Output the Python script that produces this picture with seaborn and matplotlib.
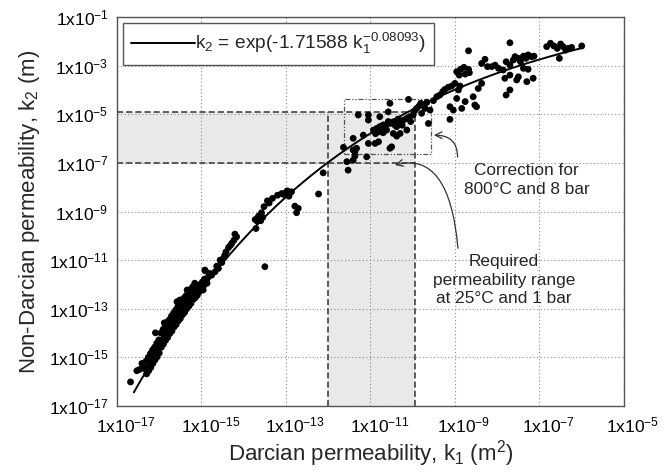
import numpy as np
import pandas as pd
import matplotlib
matplotlib.use("Agg")
import matplotlib.pyplot as plt
import seaborn as sns
from matplotlib.ticker import FixedLocator, FuncFormatter, NullFormatter
from matplotlib.transforms import ScaledTranslation

# ---------------- data (log10 values) ----------------
tail_log_k1 = [-16.68, -16.53, -16.41, -16.47, -16.38, -16.09, -15.88, -15.58, -15.51, -15.34, -14.91]
tail_log_k2 = [-16.01, -15.55, -15.25, -15.50, -15.45, -13.99, -13.58, -12.71, -12.64, -12.23, -11.44]

band_log_k1 = [-16.30, -16.28, -16.31, -16.25, -16.23, -16.26, -16.20, -16.18, -16.21, -16.15,
               -16.13, -16.16, -16.10, -16.08, -16.11, -16.05, -16.03, -16.06, -16.00, -15.98,
               -16.01, -15.95, -15.93, -15.96, -15.90, -15.88, -15.91, -15.85, -15.83, -15.86,
               -15.80, -15.78, -15.81, -15.75, -15.73, -15.76, -15.70, -15.68, -15.71, -15.65,
               -15.63, -15.66, -15.60, -15.58, -15.61, -15.55, -15.53, -15.56, -15.50, -15.48,
               -15.51, -15.45, -15.43, -15.46, -15.40, -15.38, -15.41, -15.35, -15.33, -15.36,
               -15.30, -15.28, -15.31, -15.25, -15.23, -15.26, -15.20, -15.18, -15.21, -15.15,
               -15.13, -15.16, -15.10, -15.08, -15.05, -15.03, -15.00, -14.98, -14.95, -14.93]
band_log_k2 = [-15.68, -15.40, -15.15, -15.55, -15.22, -15.00, -15.42, -15.08, -14.85, -15.25,
               -14.98, -14.70, -15.10, -14.80, -14.58, -14.98, -14.70, -14.42, -14.82, -14.52,
               -14.28, -14.58, -14.30, -14.00, -14.45, -14.15, -13.85, -14.30, -14.00, -13.72,
               -14.18, -13.85, -13.55, -14.02, -13.75, -13.45, -13.92, -13.60, -13.30, -13.75,
               -13.48, -13.18, -13.65, -13.35, -13.05, -13.50, -13.20, -12.92, -13.40, -13.10,
               -12.80, -13.25, -12.95, -12.68, -13.15, -12.85, -12.55, -13.00, -12.72, -12.45,
               -12.90, -12.60, -12.30, -12.78, -12.48, -12.20, -12.62, -12.35, -12.10, -12.55,
               -12.25, -11.95, -12.45, -12.15, -12.30, -12.00, -12.20, -11.90, -12.05, -11.78]

mid_log_k1 = [-14.96, -14.87, -14.92, -14.88, -14.84, -14.80, -14.76, -14.68, -14.64, -14.60,
              -14.56, -14.52, -14.48, -14.45, -14.42, -14.36, -14.31, -14.28, -14.23, -14.21,
              -14.17, -13.50, -13.73, -13.68, -13.65, -13.62, -13.60, -13.55, -13.71, -13.58,
              -13.52, -13.44, -13.40, -13.32, -13.20, -13.10, -13.05, -13.00, -12.97, -12.93,
              -12.87, -12.79, -12.71, -12.75, -12.23, -12.12]
mid_log_k2 = [-12.23, -11.95, -11.41, -11.80, -11.69, -11.55, -11.62, -11.48, -11.25, -11.34,
              -11.00, -11.10, -10.93, -10.80, -10.66, -10.48, -10.38, -10.30, -10.18, -9.93,
              -10.04, -11.27, -9.33, -9.40, -9.19, -9.28, -9.38, -9.24, -9.70, -9.05,
              -8.80, -8.56, -8.65, -8.46, -8.33, -8.26, -8.30, -8.22, -8.15, -8.37,
              -8.19, -8.78, -8.87, -9.05, -8.28, -7.41]

box_log_k1 = [-11.53, -11.56, -11.41, -11.37, -11.37, -11.41, -11.33, -11.64, -11.41, -11.09,
              -11.05, -10.89, -10.81, -11.17, -11.29, -11.05, -11.05, -10.78, -10.54, -10.54,
              -10.50, -10.93, -10.85, -10.78, -10.70, -10.62, -10.54, -10.46, -10.38, -10.30,
              -10.30, -10.22, -10.14, -10.14, -10.07, -9.99, -9.95, -9.91, -9.85, -9.81,
              -9.79, -9.71, -9.67, -9.63, -10.46, -10.38, -10.70, -10.78, -10.10, -10.58,
              -10.65, -10.42, -10.25, -10.05, -10.35, -10.58, -10.88]
box_log_k2 = [-7.30, -6.95, -6.89, -6.72, -6.54, -6.47, -6.40, -6.36, -5.99, -6.75,
              -6.20, -6.20, -6.13, -5.86, -5.03, -5.03, -5.24, -5.10, -4.55, -6.40,
              -6.34, -5.65, -5.58, -5.51, -5.44, -5.65, -5.38, -5.31, -5.51, -5.38,
              -5.79, -5.24, -5.17, -5.65, -5.10, -5.03, -4.85, -4.76, -4.66, -4.55,
              -4.96, -4.76, -4.52, -5.38, -5.79, -5.90, -5.76, -5.72, -4.39, -4.90,
              -5.55, -5.45, -5.45, -5.30, -5.20, -5.30, -5.80]

top_log_k1 = [-9.59, -9.51, -9.43, -9.36, -9.29, -9.24, -9.16, -9.08, -9.00, -8.92,
              -8.88, -9.12, -9.04, -9.12, -8.96, -8.84, -8.76, -8.57, -8.53, -8.49,
              -8.45, -8.37, -8.96, -8.87, -8.79, -8.68, -8.66, -8.90, -8.76, -8.68,
              -8.37, -8.29, -8.23, -8.13, -8.05, -7.97, -7.86, -7.79, -7.70, -7.62,
              -7.58, -7.50, -7.45, -7.38, -7.32, -7.27, -7.19, -7.13, -7.82, -7.70,
              -7.79, -7.70, -7.54, -7.50, -7.38, -7.30, -7.15, -7.27, -7.70, -6.83,
              -6.74, -6.66, -6.58, -6.50, -6.44, -6.38, -6.32, -6.24, -6.00, -6.53]
top_log_k2 = [-4.83, -4.44, -4.28, -4.21, -4.07, -3.98, -3.89, -3.84, -3.73, -4.00,
              -3.84, -4.69, -4.83, -5.21, -4.35, -4.76, -4.48, -4.28, -4.62, -4.69,
              -3.94, -3.73, -3.25, -3.15, -3.07, -3.15, -3.29, -3.39, -3.35, -2.39,
              -2.91, -2.74, -3.04, -3.04, -2.98, -3.11, -3.18, -2.84, -2.98, -2.77,
              -2.63, -2.70, -2.84, -2.61, -2.70, -2.56, -2.63, -2.61, -3.52, -3.39,
              -4.21, -4.00, -3.59, -3.46, -3.11, -3.66, -3.52, -3.15, -2.06, -2.22,
              -2.08, -2.19, -2.29, -2.11, -2.22, -2.36, -2.29, -2.25, -2.19, -2.70]

# fitted correlation k2 = exp(a * k1^b)
fit_a = -1.71588
fit_b = -0.08093
fit_k1_range = (2.5e-17, 1e-6)

# required permeability range (shaded) and corrected range (dash-dot box)
req_k1 = (1e-12, 1.15e-10)
req_k2 = (1e-7, 1.2e-5)
corr_k1 = (2.3e-12, 2.7e-10)
corr_k2 = (2.3e-7, 4.3e-5)

x_tick_exps = [-17, -15, -13, -11, -9, -7, -5]
y_tick_exps = [-17, -15, -13, -11, -9, -7, -5, -3, -1]

legend_label = r'k$_2$ = exp(-1.71588 k$_1^{-0.08093}$)'
xlabel = r'Darcian permeability, k$_1$ (m$^2$)'
ylabel = r'Non-Darcian permeability, k$_2$ (m)'
note_corr = 'Correction for\n800°C and 8 bar'
note_req = 'Required\npermeability range\nat 25°C and 1 bar'

# ---------------- build table ----------------
all_lx = tail_log_k1 + band_log_k1 + mid_log_k1 + box_log_k1 + top_log_k1
all_ly = tail_log_k2 + band_log_k2 + mid_log_k2 + box_log_k2 + top_log_k2
df = pd.DataFrame({'k1': 10.0 ** np.array(all_lx), 'k2': 10.0 ** np.array(all_ly)})

fit_x = np.logspace(np.log10(fit_k1_range[0]), np.log10(fit_k1_range[1]), 300)
fit_df = pd.DataFrame({'k1': fit_x, 'k2': np.exp(fit_a * fit_x ** fit_b)})

# ---------------- style ----------------
sns.set_theme(style="white")
plt.rcParams['font.family'] = ['Liberation Sans', 'DejaVu Sans']
plt.rcParams['mathtext.default'] = 'regular'
plt.rcParams['axes.edgecolor'] = '#555555'
plt.rcParams['xtick.color'] = '#555555'
plt.rcParams['ytick.color'] = '#555555'
plt.rcParams['xtick.labelcolor'] = 'black'
plt.rcParams['ytick.labelcolor'] = 'black'

fig = plt.figure(figsize=(6.64, 4.73), dpi=100)
ax = fig.add_axes([117 / 664, 1 - 406 / 473, 507 / 664, 389 / 473])
ax.set_xscale('log')
ax.set_yscale('log')
ax.set_xlim(1e-17, 1e-5)
ax.set_ylim(1e-17, 1e-1)

# shaded required range
shade = '#e9e9e9'
ax.fill_between([1e-17, req_k1[1]], req_k2[0], req_k2[1], color=shade, lw=0, zorder=0.1)
ax.fill_between([req_k1[0], req_k1[1]], 1e-17, req_k2[0], color=shade, lw=0, zorder=0.1)
dash_kw = dict(color='#333333', lw=1.1, dashes=(4, 2), zorder=1.5)
ax.plot([1e-17, req_k1[1]], [req_k2[1], req_k2[1]], **dash_kw)
ax.plot([1e-17, req_k1[1]], [req_k2[0], req_k2[0]], **dash_kw)
ax.plot([req_k1[0], req_k1[0]], [1e-17, req_k2[1]], **dash_kw)
ax.plot([req_k1[1], req_k1[1]], [1e-17, req_k2[1]], **dash_kw)

# correction box
box_kw = dict(color='#555555', lw=0.9, dashes=(4, 1.5, 1, 1.5, 1, 1.5), zorder=1.6)
ax.plot([corr_k1[0], corr_k1[1], corr_k1[1], corr_k1[0], corr_k1[0]],
        [corr_k2[0], corr_k2[0], corr_k2[1], corr_k2[1], corr_k2[0]], **box_kw)

# data
sns.scatterplot(data=df, x='k1', y='k2', color='black', s=24, edgecolor='none',
                ax=ax, legend=False, zorder=3)
sns.lineplot(data=fit_df, x='k1', y='k2', color='black', lw=1.4, ax=ax,
             label=legend_label, zorder=4)

# grid
ax.set_axisbelow(True)
ax.grid(True, which='major', color='#8a8a8a', lw=0.8, linestyle=(0, (1, 2.2)))

# ticks
xt = [10.0 ** e for e in x_tick_exps]
yt = [10.0 ** e for e in y_tick_exps]
ax.xaxis.set_major_locator(FixedLocator(xt))
ax.yaxis.set_major_locator(FixedLocator(yt))
minor_x = [m * 10.0 ** e for e in range(-17, -5) for m in range(2, 10)] + [10.0 ** e for e in range(-16, -5, 2)]
minor_y = [m * 10.0 ** e for e in range(-17, -1) for m in range(2, 10)] + [10.0 ** e for e in range(-16, -1, 2)]
ax.xaxis.set_minor_locator(FixedLocator(minor_x))
ax.yaxis.set_minor_locator(FixedLocator(minor_y))
ax.xaxis.set_minor_formatter(NullFormatter())
ax.yaxis.set_minor_formatter(NullFormatter())
fmt = FuncFormatter(lambda v, p: r'1x10$^{%d}$' % int(round(np.log10(v))))
ax.xaxis.set_major_formatter(fmt)
ax.yaxis.set_major_formatter(fmt)
ax.tick_params(axis='x', which='major', direction='in', length=5, width=0.8, labelsize=12.5, pad=7)
ax.tick_params(axis='x', which='minor', direction='in', length=3, width=0.6)
ax.tick_params(axis='y', which='major', direction='inout', length=6, width=0.8, labelsize=12.5, pad=3)
ax.tick_params(axis='y', which='minor', direction='in', length=3, width=0.6)
for sp in ax.spines.values():
    sp.set_linewidth(1.0)

offset = ScaledTranslation(0.09, 0, fig.dpi_scale_trans)
for lab in ax.get_xticklabels():
    lab.set_transform(lab.get_transform() + offset)

ax.set_xlabel(xlabel, fontsize=16, labelpad=2)
ax.set_ylabel(ylabel, fontsize=16, labelpad=5)

# legend
leg = ax.legend(loc='upper left', handlelength=3.3, handletextpad=0.0, frameon=True,
                fancybox=False, framealpha=1, fontsize=13.8, borderpad=0.45,
                borderaxespad=0.3)
leg.get_frame().set_edgecolor('#555555')
leg.get_frame().set_linewidth(1.0)
leg.set_zorder(10)

# annotations
ax.text(10 ** -7.30, 10 ** -7.71, note_corr, ha='center', va='center', fontsize=12.4,
        linespacing=1.3, zorder=5)
ax.annotate('', xy=(10 ** -9.50, 10 ** -5.86), xytext=(10 ** -8.94, 10 ** -6.76),
            arrowprops=dict(arrowstyle='->', color='#333333', lw=0.9,
                            connectionstyle='angle3,angleA=90,angleB=0',
                            shrinkA=0, shrinkB=0), zorder=5)
ax.text(10 ** -7.84, 10 ** -11.82, note_req, ha='center', va='center', fontsize=12.4,
        linespacing=1.3, zorder=5)
ax.annotate('', xy=(10 ** -10.42, 10 ** -7.09), xytext=(10 ** -8.93, 10 ** -10.51),
            arrowprops=dict(arrowstyle='->', color='#333333', lw=0.9,
                            connectionstyle='angle3,angleA=95,angleB=15',
                            shrinkA=0, shrinkB=0), zorder=5)

fig.savefig('out.png', dpi=100)
